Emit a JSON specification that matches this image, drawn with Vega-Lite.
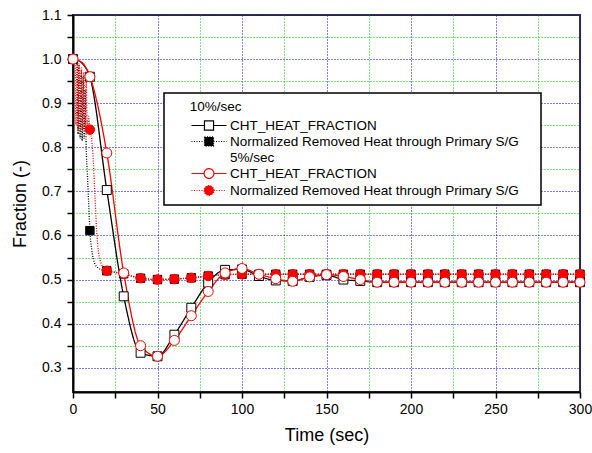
{
  "$schema": "https://vega.github.io/schema/vega-lite/v6.json",
  "width": 507,
  "height": 377,
  "autosize": "none",
  "padding": {"left": 73, "top": 15, "right": 12, "bottom": 61},
  "background": "white",
  "config": {
    "view": {"stroke": "#333333", "strokeWidth": 2},
    "axis": {
      "labelFont": "Liberation Sans", "titleFont": "Liberation Sans",
      "labelColor": "black", "titleColor": "black", "titleFontWeight": "normal",
      "labelFontSize": 14, "titleFontSize": 18,
      "domainColor": "black", "domainWidth": 2,
      "tickColor": "black", "tickWidth": 1.5, "tickSize": 6,
      "gridDash": [1, 2], "gridWidth": 1, "gridOpacity": 1,
      "labelFlush": false, "labelOverlap": false
    },
    "legend": {
      "labelFont": "Liberation Sans", "labelFontSize": 13.5, "labelColor": "black", "labelLimit": 600,
      "titleFont": "Liberation Sans", "titleFontSize": 13.5, "titleFontWeight": "normal", "titleColor": "black", "titleLimit": 600,
      "symbolSize": 196, "symbolStrokeWidth": 1.2, "symbolOffset": 30, "labelOffset": 13, "symbolOpacity": 1,
      "padding": 7, "rowPadding": 1, "titlePadding": 4,
      "strokeColor": "black", "fillColor": "white", "strokeWidth": 1.5
    }
  },
  "data": {"values": [
    {"s":"10%/sec NRH","t":0,"v":1.0},{"s":"10%/sec NRH","t":1.5,"v":0.998},{"s":"10%/sec NRH","t":2.5,"v":0.99},{"s":"10%/sec NRH","t":3,"v":0.83},{"s":"10%/sec NRH","t":3.5,"v":0.985},{"s":"10%/sec NRH","t":4.2,"v":0.82},{"s":"10%/sec NRH","t":4.8,"v":0.975},{"s":"10%/sec NRH","t":5.4,"v":0.815},{"s":"10%/sec NRH","t":6,"v":0.96},{"s":"10%/sec NRH","t":6.6,"v":0.82},{"s":"10%/sec NRH","t":7.2,"v":0.93},{"s":"10%/sec NRH","t":7.8,"v":0.8},{"s":"10%/sec NRH","t":8.5,"v":0.74},{"s":"10%/sec NRH","t":9.2,"v":0.68},{"s":"10%/sec NRH","t":10,"v":0.611},{"s":"10%/sec NRH","t":11,"v":0.57},{"s":"10%/sec NRH","t":12,"v":0.547},{"s":"10%/sec NRH","t":13,"v":0.535},{"s":"10%/sec NRH","t":15,"v":0.526},{"s":"10%/sec NRH","t":17,"v":0.522},{"s":"10%/sec NRH","t":20,"v":0.52},{"s":"10%/sec NRH","t":30,"v":0.513},{"s":"10%/sec NRH","t":40,"v":0.503},{"s":"10%/sec NRH","t":50,"v":0.5},{"s":"10%/sec NRH","t":60,"v":0.501},{"s":"10%/sec NRH","t":70,"v":0.504},{"s":"10%/sec NRH","t":80,"v":0.508},{"s":"10%/sec NRH","t":90,"v":0.511},{"s":"10%/sec NRH","t":100,"v":0.512},{"s":"10%/sec NRH","t":110,"v":0.512},{"s":"10%/sec NRH","t":120,"v":0.512},{"s":"10%/sec NRH","t":130,"v":0.512},{"s":"10%/sec NRH","t":140,"v":0.512},{"s":"10%/sec NRH","t":150,"v":0.512},{"s":"10%/sec NRH","t":160,"v":0.512},{"s":"10%/sec NRH","t":170,"v":0.512},{"s":"10%/sec NRH","t":180,"v":0.512},{"s":"10%/sec NRH","t":190,"v":0.512},{"s":"10%/sec NRH","t":200,"v":0.512},{"s":"10%/sec NRH","t":210,"v":0.512},{"s":"10%/sec NRH","t":220,"v":0.512},{"s":"10%/sec NRH","t":230,"v":0.512},{"s":"10%/sec NRH","t":240,"v":0.512},{"s":"10%/sec NRH","t":250,"v":0.512},{"s":"10%/sec NRH","t":260,"v":0.512},{"s":"10%/sec NRH","t":270,"v":0.512},{"s":"10%/sec NRH","t":280,"v":0.512},{"s":"10%/sec NRH","t":290,"v":0.512},{"s":"10%/sec NRH","t":300,"v":0.512},
    {"s":"10%/sec CHT","t":0,"v":1.0},{"s":"10%/sec CHT","t":3,"v":0.997},{"s":"10%/sec CHT","t":6,"v":0.988},{"s":"10%/sec CHT","t":10,"v":0.96},{"s":"10%/sec CHT","t":20,"v":0.703},{"s":"10%/sec CHT","t":30,"v":0.462},{"s":"10%/sec CHT","t":40,"v":0.334},{"s":"10%/sec CHT","t":50,"v":0.326},{"s":"10%/sec CHT","t":60,"v":0.375},{"s":"10%/sec CHT","t":70,"v":0.436},{"s":"10%/sec CHT","t":80,"v":0.493},{"s":"10%/sec CHT","t":90,"v":0.522},{"s":"10%/sec CHT","t":100,"v":0.523},{"s":"10%/sec CHT","t":110,"v":0.508},{"s":"10%/sec CHT","t":120,"v":0.498},{"s":"10%/sec CHT","t":130,"v":0.497},{"s":"10%/sec CHT","t":140,"v":0.506},{"s":"10%/sec CHT","t":150,"v":0.51},{"s":"10%/sec CHT","t":160,"v":0.5},{"s":"10%/sec CHT","t":170,"v":0.497},{"s":"10%/sec CHT","t":180,"v":0.494},{"s":"10%/sec CHT","t":190,"v":0.494},{"s":"10%/sec CHT","t":200,"v":0.494},{"s":"10%/sec CHT","t":210,"v":0.494},{"s":"10%/sec CHT","t":220,"v":0.494},{"s":"10%/sec CHT","t":230,"v":0.494},{"s":"10%/sec CHT","t":240,"v":0.494},{"s":"10%/sec CHT","t":250,"v":0.494},{"s":"10%/sec CHT","t":260,"v":0.494},{"s":"10%/sec CHT","t":270,"v":0.494},{"s":"10%/sec CHT","t":280,"v":0.494},{"s":"10%/sec CHT","t":290,"v":0.494},{"s":"10%/sec CHT","t":300,"v":0.494},
    {"s":"5%/sec NRH","t":0,"v":1.0},{"s":"5%/sec NRH","t":1.2,"v":0.998},{"s":"5%/sec NRH","t":1.8,"v":0.85},{"s":"5%/sec NRH","t":2.4,"v":0.995},{"s":"5%/sec NRH","t":3,"v":0.84},{"s":"5%/sec NRH","t":3.6,"v":0.99},{"s":"5%/sec NRH","t":4.3,"v":0.835},{"s":"5%/sec NRH","t":5,"v":0.98},{"s":"5%/sec NRH","t":5.7,"v":0.84},{"s":"5%/sec NRH","t":6.4,"v":0.97},{"s":"5%/sec NRH","t":7.1,"v":0.845},{"s":"5%/sec NRH","t":7.8,"v":0.95},{"s":"5%/sec NRH","t":8.5,"v":0.84},{"s":"5%/sec NRH","t":9.2,"v":0.87},{"s":"5%/sec NRH","t":10,"v":0.84},{"s":"5%/sec NRH","t":11,"v":0.82},{"s":"5%/sec NRH","t":12,"v":0.77},{"s":"5%/sec NRH","t":13,"v":0.69},{"s":"5%/sec NRH","t":14,"v":0.61},{"s":"5%/sec NRH","t":15,"v":0.565},{"s":"5%/sec NRH","t":16,"v":0.545},{"s":"5%/sec NRH","t":18,"v":0.527},{"s":"5%/sec NRH","t":20,"v":0.52},{"s":"5%/sec NRH","t":30,"v":0.513},{"s":"5%/sec NRH","t":40,"v":0.503},{"s":"5%/sec NRH","t":50,"v":0.5},{"s":"5%/sec NRH","t":60,"v":0.501},{"s":"5%/sec NRH","t":70,"v":0.504},{"s":"5%/sec NRH","t":80,"v":0.508},{"s":"5%/sec NRH","t":90,"v":0.511},{"s":"5%/sec NRH","t":100,"v":0.512},{"s":"5%/sec NRH","t":110,"v":0.512},{"s":"5%/sec NRH","t":120,"v":0.512},{"s":"5%/sec NRH","t":130,"v":0.512},{"s":"5%/sec NRH","t":140,"v":0.512},{"s":"5%/sec NRH","t":150,"v":0.512},{"s":"5%/sec NRH","t":160,"v":0.512},{"s":"5%/sec NRH","t":170,"v":0.512},{"s":"5%/sec NRH","t":180,"v":0.512},{"s":"5%/sec NRH","t":190,"v":0.512},{"s":"5%/sec NRH","t":200,"v":0.512},{"s":"5%/sec NRH","t":210,"v":0.512},{"s":"5%/sec NRH","t":220,"v":0.512},{"s":"5%/sec NRH","t":230,"v":0.512},{"s":"5%/sec NRH","t":240,"v":0.512},{"s":"5%/sec NRH","t":250,"v":0.512},{"s":"5%/sec NRH","t":260,"v":0.512},{"s":"5%/sec NRH","t":270,"v":0.512},{"s":"5%/sec NRH","t":280,"v":0.512},{"s":"5%/sec NRH","t":290,"v":0.512},{"s":"5%/sec NRH","t":300,"v":0.512},
    {"s":"5%/sec CHT","t":0,"v":1.0},{"s":"5%/sec CHT","t":3,"v":0.997},{"s":"5%/sec CHT","t":6,"v":0.99},{"s":"5%/sec CHT","t":10,"v":0.96},{"s":"5%/sec CHT","t":20,"v":0.787},{"s":"5%/sec CHT","t":30,"v":0.515},{"s":"5%/sec CHT","t":40,"v":0.35},{"s":"5%/sec CHT","t":50,"v":0.326},{"s":"5%/sec CHT","t":60,"v":0.362},{"s":"5%/sec CHT","t":70,"v":0.418},{"s":"5%/sec CHT","t":80,"v":0.473},{"s":"5%/sec CHT","t":90,"v":0.515},{"s":"5%/sec CHT","t":100,"v":0.525},{"s":"5%/sec CHT","t":110,"v":0.512},{"s":"5%/sec CHT","t":120,"v":0.502},{"s":"5%/sec CHT","t":130,"v":0.496},{"s":"5%/sec CHT","t":140,"v":0.506},{"s":"5%/sec CHT","t":150,"v":0.511},{"s":"5%/sec CHT","t":160,"v":0.507},{"s":"5%/sec CHT","t":170,"v":0.5},{"s":"5%/sec CHT","t":180,"v":0.494},{"s":"5%/sec CHT","t":190,"v":0.494},{"s":"5%/sec CHT","t":200,"v":0.494},{"s":"5%/sec CHT","t":210,"v":0.494},{"s":"5%/sec CHT","t":220,"v":0.494},{"s":"5%/sec CHT","t":230,"v":0.494},{"s":"5%/sec CHT","t":240,"v":0.494},{"s":"5%/sec CHT","t":250,"v":0.494},{"s":"5%/sec CHT","t":260,"v":0.494},{"s":"5%/sec CHT","t":270,"v":0.494},{"s":"5%/sec CHT","t":280,"v":0.494},{"s":"5%/sec CHT","t":290,"v":0.494},{"s":"5%/sec CHT","t":300,"v":0.494}
  ]},
  "encoding": {
    "x": {
      "field": "t", "type": "quantitative",
      "scale": {"domain": [0, 300], "nice": false, "zero": false},
      "axis": {
        "title": "Time (sec)",
        "values": [0, 25, 50, 75, 100, 125, 150, 175, 200, 225, 250, 275, 300],
        "labelExpr": "datum.value % 50 === 0 ? datum.label : ''",
        "format": "d",
        "grid": true,
        "gridColor": {"condition": {"test": "datum.value % 50 === 0", "value": "#0000ff"}, "value": "#00cc00"},
        "labelPadding": 4,
        "titlePadding": 10
      }
    },
    "y": {
      "field": "v", "type": "quantitative",
      "scale": {"domain": [0.245, 1.1], "nice": false, "zero": false},
      "axis": {
        "title": "Fraction (-)",
        "values": [0.3, 0.35, 0.4, 0.45, 0.5, 0.55, 0.6, 0.65, 0.7, 0.75, 0.8, 0.85, 0.9, 0.95, 1.0, 1.05, 1.1],
        "labelExpr": "round(datum.value * 100) % 10 === 0 ? format(datum.value, '.1f') : ''",
        "grid": true,
        "gridColor": {"condition": {"test": "round(datum.value * 100) % 10 === 0", "value": "#0000ff"}, "value": "#00cc00"},
        "labelPadding": 6,
        "titlePadding": 12
      }
    }
  },
  "layer": [
    {
      "mark": {"type": "line", "interpolate": "monotone", "strokeWidth": 1.3},
      "encoding": {
        "color": {"field": "s", "type": "nominal", "legend": null,
          "scale": {"domain": ["10%/sec NRH", "10%/sec CHT", "5%/sec NRH", "5%/sec CHT"], "range": ["black", "black", "#ff0000", "#ff0000"]}},
        "strokeDash": {"field": "s", "type": "nominal", "legend": null,
          "scale": {"domain": ["10%/sec NRH", "10%/sec CHT", "5%/sec NRH", "5%/sec CHT"], "range": [[1, 1.5], [1, 0], [1, 1.5], [1, 0]]}}
      }
    },
    {
      "transform": [{"filter": "datum.t % 10 === 0"}],
      "mark": {"type": "point", "filled": true, "strokeWidth": 1, "opacity": 1},
      "encoding": {
        "shape": {"field": "s", "type": "nominal", "legend": null,
          "scale": {"domain": ["10%/sec NRH", "10%/sec CHT", "5%/sec NRH", "5%/sec CHT"], "range": ["square", "square", "circle", "circle"]}},
        "fill": {"field": "s", "type": "nominal", "legend": null,
          "scale": {"domain": ["10%/sec NRH", "10%/sec CHT", "5%/sec NRH", "5%/sec CHT"], "range": ["black", "white", "#ff0000", "white"]}},
        "stroke": {"field": "s", "type": "nominal", "legend": null,
          "scale": {"domain": ["10%/sec NRH", "10%/sec CHT", "5%/sec NRH", "5%/sec CHT"], "range": ["black", "black", "#ff0000", "#ff0000"]}},
        "size": {"field": "s", "type": "nominal", "legend": null,
          "scale": {"domain": ["10%/sec NRH", "10%/sec CHT", "5%/sec NRH", "5%/sec CHT"], "range": [70, 100, 85, 120]}}
      }
    },
    {
      "transform": [{"filter": "datum.t < 0"}],
      "mark": {"type": "point", "filled": true, "size": 196, "strokeWidth": 1.2, "opacity": 1},
      "encoding": {
        "shape": {"field": "s", "type": "nominal",
          "scale": {"domain": ["10%/sec CHT", "10%/sec NRH", "5%/sec", "5%/sec CHT", "5%/sec NRH"],
            "range": ["M-2.5,0H-0.65M0.65,0H2.5M-0.65,-0.65H0.65V0.65H-0.65Z", "M-2.5,0H-0.65M0.65,0H2.5M-0.65,-0.65H0.65V0.65H-0.65Z", "M0,0", "M-2.5,0H-0.7M0.7,0H2.5M-0.7,0A0.7,0.7,0,1,0,0.7,0A0.7,0.7,0,1,0,-0.7,0Z", "M-2.5,0H-0.7M0.7,0H2.5M-0.7,0A0.7,0.7,0,1,0,0.7,0A0.7,0.7,0,1,0,-0.7,0Z"]},
          "legend": {"title": "\u200b\u00a0\u00a0\u00a0\u00a0\u00a010%/sec", "orient": "none", "legendX": 91, "legendY": 78,
            "labelExpr": "indexof(datum.label, 'CHT') >= 0 ? 'CHT_HEAT_FRACTION' : (indexof(datum.label, 'NRH') >= 0 ? 'Normalized Removed Heat through Primary S/G\u00a0\u00a0\u00a0\u00a0\u200b' : datum.label)"}},
        "fill": {"field": "s", "type": "nominal",
          "scale": {"domain": ["10%/sec CHT", "10%/sec NRH", "5%/sec", "5%/sec CHT", "5%/sec NRH"], "range": ["white", "black", "transparent", "white", "#ff0000"]},
          "legend": {"title": "\u200b\u00a0\u00a0\u00a0\u00a0\u00a010%/sec", "orient": "none", "legendX": 91, "legendY": 78}},
        "stroke": {"field": "s", "type": "nominal",
          "scale": {"domain": ["10%/sec CHT", "10%/sec NRH", "5%/sec", "5%/sec CHT", "5%/sec NRH"], "range": ["black", "black", "transparent", "#ff0000", "#ff0000"]},
          "legend": {"title": "\u200b\u00a0\u00a0\u00a0\u00a0\u00a010%/sec", "orient": "none", "legendX": 91, "legendY": 78}},
        "strokeDash": {"field": "s", "type": "nominal",
          "scale": {"domain": ["10%/sec CHT", "10%/sec NRH", "5%/sec", "5%/sec CHT", "5%/sec NRH"], "range": [[1, 0], [1, 1.5], [1, 0], [1, 0], [1, 1.5]]},
          "legend": {"title": "\u200b\u00a0\u00a0\u00a0\u00a0\u00a010%/sec", "orient": "none", "legendX": 91, "legendY": 78}}
      }
    }
  ],
  "resolve": {
    "scale": {"color": "independent", "strokeDash": "independent", "shape": "independent", "fill": "independent", "stroke": "independent", "size": "independent"}
  }
}
